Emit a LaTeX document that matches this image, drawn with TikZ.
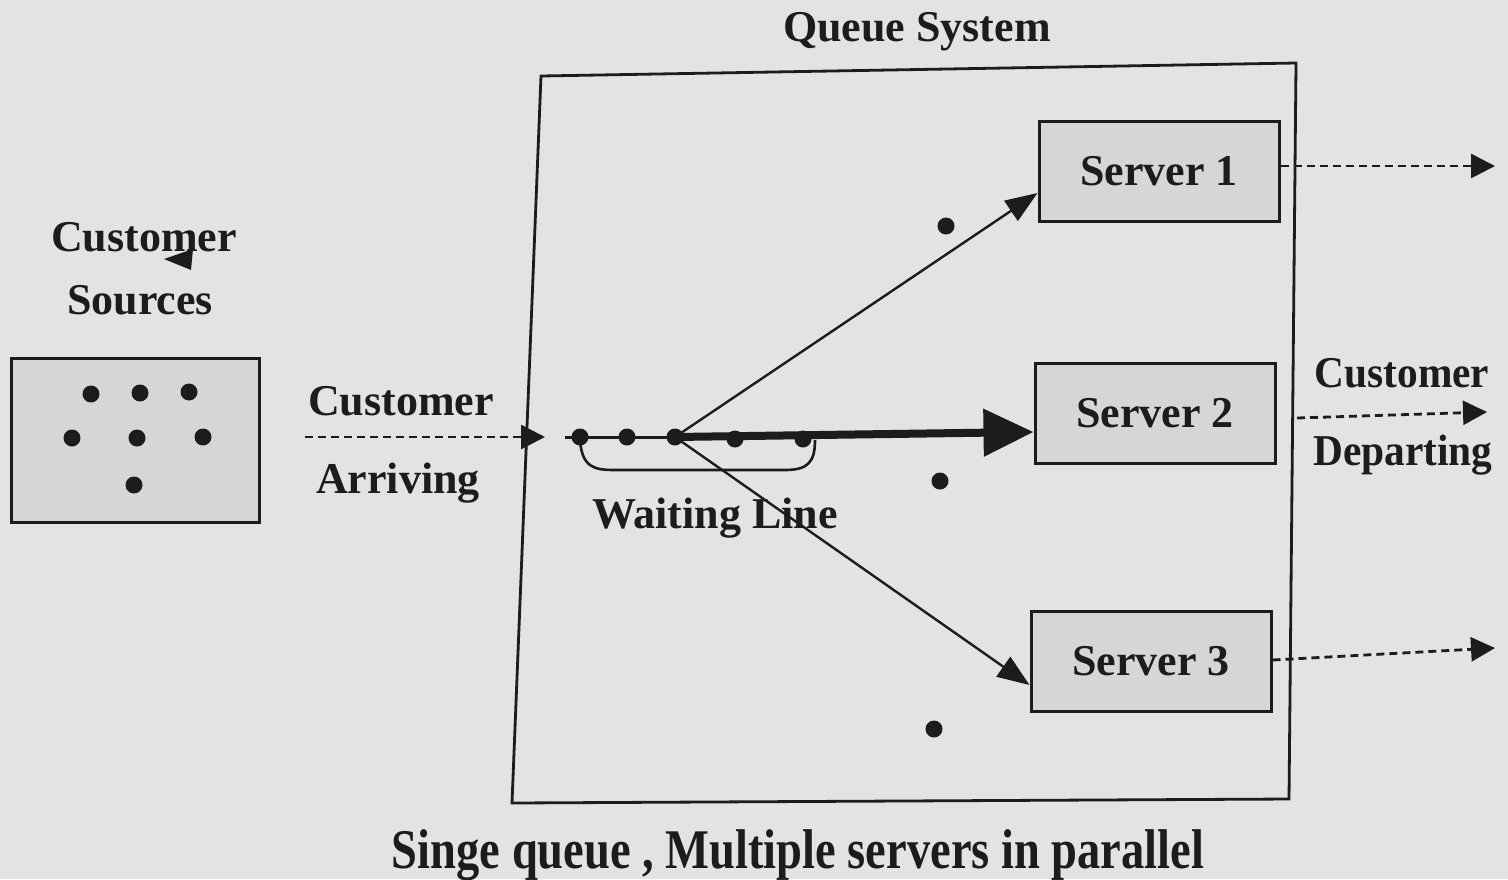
\documentclass[tikz,border=0pt]{standalone}
\usepackage{fontspec}
\setmainfont{Liberation Serif}
\usetikzlibrary{arrows.meta}
\definecolor{paper}{HTML}{E3E4E1}
\definecolor{boxfill}{HTML}{D6D7D4}
\definecolor{ink}{HTML}{1C1C1C}
\tikzset{
  lbl/.style={text=ink, font=\fontsize{22}{26}\selectfont\bfseries, inner sep=0pt},
  serverbox/.style={draw=ink, line width=1.5pt, fill=boxfill, minimum width=120pt,
    minimum height=50pt, inner sep=0pt, text=ink, font=\fontsize{22}{26}\selectfont\bfseries},
  dot/.style={circle, fill=ink, inner sep=0pt, minimum size=8.5pt},
  flow/.style={draw=ink, line width=1.2pt, -{Triangle[length=16pt,width=12pt]}},
  leave/.style={draw=ink, line width=1.4pt, dash pattern=on 4pt off 2.5pt,
    -{Triangle[length=12pt,width=12pt]}},
}
\begin{document}
\begin{tikzpicture}[x=0.5pt, y=-0.5pt]
  % page
  \fill[paper] (0,0) rectangle (1508,879);
  \useasboundingbox (0,0) rectangle (1508,879);

  % queue system frame
  \coordinate (qa) at (541,76);
  \coordinate (qb) at (1296,63);
  \coordinate (qc) at (1289,799);
  \coordinate (qd) at (512,803);
  \draw[ink, line width=1.4pt] (qa) -- (qb) -- (qc) -- (qd) -- cycle;
  \node[lbl] (qtitle) at (917,32) {Queue System};

  % customer source population
  \node[lbl] (src1) at (144,237) {Customer};
  \node[lbl] (src2) at (140,300) {Sources};
  \fill[ink] (164,259) -- (193,249) -- (191,270) -- cycle;
  \node[draw=ink, line width=1.5pt, fill=boxfill, minimum width=124pt, minimum height=82pt,
        inner sep=0pt] (pool) at (135,440) {};
  \foreach \px/\py [count=\i] in {91/394,140/393,189/392,72/438,137/438,203/437,134/485}
    \node[dot] (c\i) at (\px,\py) {};

  % arrivals
  \node[lbl] (arr1) at (401,401) {Customer};
  \node[lbl] (arr2) at (398,483) {Arriving};
  \coordinate (arrS) at (305,437);
  \coordinate (arrE) at (545,437);
  \draw[leave] (arrS) -- (arrE);

  % waiting line
  \coordinate (wl0) at (565,437);
  \node[dot] (w4) at (735,439) {};
  \node[dot] (w5) at (803,439) {};
  \draw[ink, line width=1.5pt] (wl0) -- (675,437);
  \draw[ink, line width=1.3pt] (580,440) .. controls (582,468) and (595,470) .. (615,470)
     -- (785,470) .. controls (808,470) and (815,462) .. (815,440);
  \node[dot] (w1) at (580,437) {};
  \node[dot] (w2) at (627,437) {};
  \node[dot] (w3) at (675,437) {};
  \node[lbl] (wlab) at (715,518) {Waiting Line};

  % servers
  \node[serverbox] (s1) at (1159,171) {Server 1};
  \node[serverbox] (s2) at (1155,413) {Server 2};
  \node[serverbox] (s3) at (1151,661) {Server 3};
  \node[dot] (d1) at (946,226) {};
  \node[dot] (d2) at (940,481) {};
  \node[dot] (d3) at (934,729) {};

  % routing from the head of the line
  \draw[ink, line width=4pt, -{Triangle[length=25pt,width=23pt]}]
    (w3.center) -- (s2.west |- 0,432);
  \draw[flow] (w3.center) -- (s1.west |- 0,193);
  \draw[flow] (w3.center) -- (s3.west |- 0,685);

  % departures
  \coordinate (o1) at (1495,166);
  \coordinate (o2s) at (1297,418);
  \coordinate (o2) at (1487,412);
  \coordinate (o3) at (1495,648);
  \draw[leave] (s1.east |- 0,166) -- (o1);
  \draw[leave] (o2s) -- (o2);
  \draw[leave] (s3.east |- 0,660) -- (o3);
  \node[lbl] (dep1) at (1402,373) {\scalebox{0.94}[1]{Customer}};
  \node[lbl] (dep2) at (1403,455) {\scalebox{0.94}[1]{Departing}};

  % caption
  \node[lbl, font=\fontsize{28}{32}\selectfont\bfseries] (cap) at (798,855)
    {\scalebox{0.83}[1]{Singe queue , Multiple servers in parallel}};
\end{tikzpicture}
\end{document}
